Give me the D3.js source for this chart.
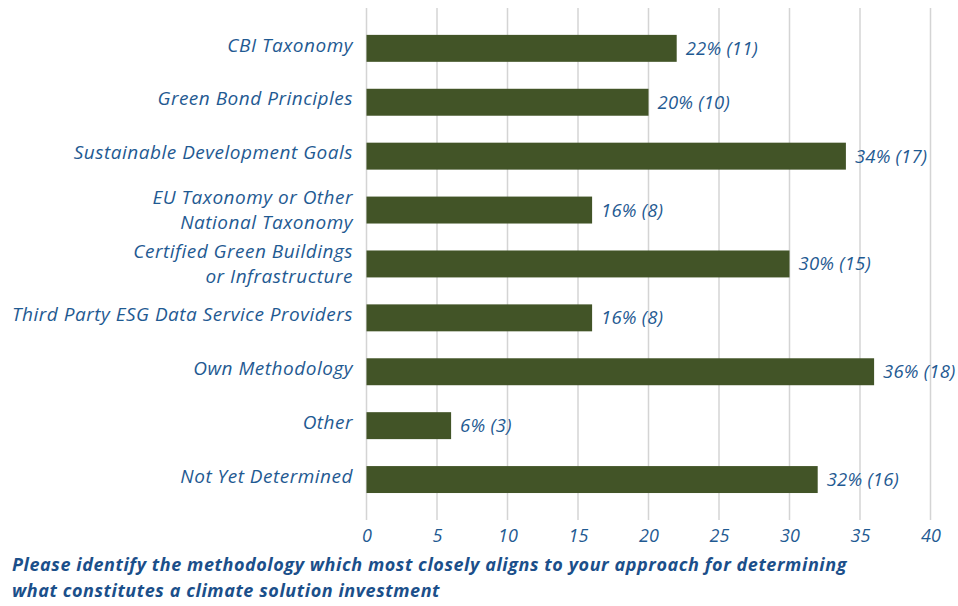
<!DOCTYPE html>
<html><head><meta charset="utf-8">
<script src="https://cdn.jsdelivr.net/npm/d3@7"></script>
<style>
html,body{margin:0;padding:0;background:#fff;}
svg{display:block;}
text{font-family:"Open Sans",sans-serif;font-style:italic;}
</style></head>
<body><svg id="c" width="958" height="606"></svg>
<script>
const categories = [
  ["CBI Taxonomy"],
  ["Green Bond Principles"],
  ["Sustainable Development Goals"],
  ["EU Taxonomy or Other", "National Taxonomy"],
  ["Certified Green Buildings", "or Infrastructure"],
  ["Third Party ESG Data Service Providers"],
  ["Own Methodology"],
  ["Other "],
  ["Not Yet Determined"]
];
const values = [22, 20, 34, 16, 30, 16, 36, 6, 32];
const counts = [11, 10, 17, 8, 15, 8, 18, 3, 16];
const xTicks = [0, 5, 10, 15, 20, 25, 30, 35, 40];
const titleLines = [
  "Please identify the methodology which most closely aligns to your approach for determining",
  "what constitutes a climate solution investment"
];

const svg = d3.select("#c");
const textColor = "#1f5a92";
const x = d3.scaleLinear().domain([0, 40]).range([366.5, 930.5]);
const y = d3.scaleBand().domain(d3.range(categories.length)).range([21.4, 506.5]).paddingInner(0.5).paddingOuter(0.25);

// gridlines
svg.append("g").selectAll("line").data(xTicks).join("line")
  .attr("x1", d => x(d)).attr("x2", d => x(d))
  .attr("y1", 8).attr("y2", 520)
  .attr("stroke", "#d4d4d4").attr("stroke-width", 1.5);

// bars
svg.append("g").selectAll("rect").data(values).join("rect")
  .attr("x", x(0)).attr("y", (d, i) => y(i))
  .attr("width", d => x(d) - x(0)).attr("height", y.bandwidth())
  .attr("fill", "#425427");

// value labels
svg.append("g").selectAll("text").data(values).join("text")
  .attr("x", d => x(d) + 9).attr("y", (d, i) => y(i) + y.bandwidth() / 2)
  .attr("dy", "0.35em").attr("fill", textColor).attr("font-size", 18.5)
  .attr("letter-spacing", 0.2)
  .text((d, i) => `${d}% (${counts[i]})`);

// category labels
const cl = svg.append("g").selectAll("text").data(categories).join("text")
  .attr("text-anchor", "end").attr("fill", textColor).attr("font-size", 19)
  .attr("letter-spacing", 0.5)
  .attr("x", 353).attr("y", (d, i) => y(i) + y.bandwidth() / 2 + (d.length === 1 ? -3.5 : 0));
cl.each(function(d) {
  const t = d3.select(this);
  const n = d.length;
  d.forEach((line, k) => {
    t.append("tspan").attr("x", 353)
      .attr("dy", k === 0 ? (0.35 - (n - 1) * 0.66) + "em" : "1.32em")
      .text(line);
  });
});

// x axis tick labels
const xa = svg.append("g").attr("transform", "translate(0,536)")
  .call(d3.axisBottom(x).tickValues(xTicks).tickSize(0).tickPadding(0));
xa.select(".domain").remove();
xa.selectAll("text").attr("fill", textColor).attr("font-size", 18)
  .attr("font-family", "Open Sans, sans-serif").attr("font-style", "italic").attr("dy", "0.35em");

// title
svg.append("g").selectAll("text").data(titleLines).join("text")
  .attr("x", 12).attr("y", (d, i) => 571 + i * 25.5)
  .attr("fill", "#1b4f8a").attr("font-size", 18).attr("font-weight", 700)
  .attr("letter-spacing", 0.57)
  .text(d => d);
</script></body></html>
